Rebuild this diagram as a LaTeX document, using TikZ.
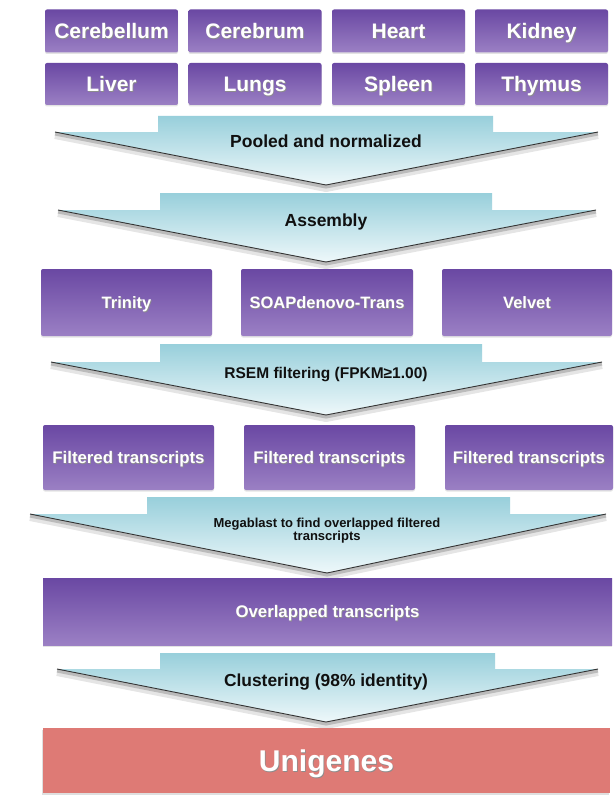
\documentclass[tikz,border=0pt]{standalone}
\usepackage{fontspec}
\setmainfont{Liberation Sans}
\usetikzlibrary{shadows}
\definecolor{purT}{HTML}{6A48A3}
\definecolor{purB}{HTML}{9B80C4}
\definecolor{cyT}{HTML}{98CFDB}
\definecolor{cyB}{HTML}{EEF8FA}
\definecolor{uni}{HTML}{DE7A75}
\definecolor{lbl}{HTML}{101010}
\newcommand\shd[1]{\leavevmode\rlap{\kern0.7pt\raisebox{-0.7pt}{\color{black!45}#1}}#1}
\newcommand\fsz[1]{\fontsize{#1}{#1}\selectfont}
% band-left, band-right, top y, wing y, wing-left, wing-right, tip x, tip y
\newcommand\chev[8]{%
  \draw[black, opacity=0.10, line width=7pt, line join=round, shift={(0,3.5)}] (#6,#4) -- (#7,#8) -- (#5,#4);
  \draw[black, opacity=0.18, line width=3.5pt, line join=round, shift={(0,1.8)}] (#6,#4) -- (#7,#8) -- (#5,#4);
  \shade[top color=cyT, bottom color=cyB] (#1,#4) -- (#1,#3) -- (#2,#3) -- (#2,#4) -- (#6,#4) -- (#7,#8) -- (#5,#4) -- cycle;
  \draw[black!80, line width=0.9pt, line join=round] (#6,#4) -- (#7,#8) -- (#5,#4);
}
\tikzset{
  fs/.style={font=\bfseries\fsz{#1}, text height={#1*0.72pt}, text depth=0pt},
  pbox/.style={rounded corners=2pt, top color=purT, bottom color=purB, text=white,
    inner sep=0pt,
    drop shadow={opacity=0.22, shadow xshift=0pt, shadow yshift=-1.5pt}},
  alabel/.style={text=lbl, inner sep=0pt, align=center},
  ubox/.style={fill=uni, text=white, fs=30, inner sep=0pt,
    drop shadow={opacity=0.25, shadow xshift=-1.5pt, shadow yshift=-2pt}}
}
\begin{document}
\begin{tikzpicture}[x=1pt,y=-1pt]
\useasboundingbox (0,0) rectangle (615,797);
\fill[white] (0,0) rectangle (615,797);

% tissue rows
\foreach \n/\t/\x in {cbl/Cerebellum/111.5, cbr/Cerebrum/255, hrt/Heart/398.5, kid/Kidney/541.5}
  \node[pbox, minimum width=133pt, minimum height=43pt, fs=21] (\n) at (\x,31) {\shd{\t}};
\foreach \n/\t/\x in {liv/Liver/111.5, lun/Lungs/255, spl/Spleen/398.5, thy/Thymus/541.5}
  \node[pbox, minimum width=133pt, minimum height=42pt, fs=21] (\n) at (\x,84) {\shd{\t}};

% arrow 1
\chev{158}{493}{116}{132}{55}{598}{326}{185}
\node[alabel, fs=17.5] (pool) at (326,141.5) {Pooled and normalized};

% arrow 2
\chev{160}{492}{193}{210}{58}{596}{326}{262}
\node[alabel, fs=17.5] (asm) at (326,220) {Assembly};

% assemblers
\node[pbox, minimum width=171pt, minimum height=67pt, fs=16.5] (tri) at (126.5,302.5) {\shd{Trinity}};
\node[pbox, minimum width=172pt, minimum height=67pt, fs=16.5] (soap) at (327,302.5) {\shd{SOAPdenovo-Trans}};
\node[pbox, minimum width=170pt, minimum height=67pt, fs=16.5] (vel) at (527,302.5) {\shd{Velvet}};

% arrow 3
\chev{160}{482}{344}{362}{51}{602}{326}{415}
\node[alabel, fs=15.5] (rsem) at (326,373) {RSEM filtering (FPKM≥1.00)};

% filtered
\node[pbox, minimum width=171pt, minimum height=65pt, fs=16.8] (f1) at (128.5,457.5) {\shd{Filtered transcripts}};
\node[pbox, minimum width=171pt, minimum height=65pt, fs=16.8] (f2) at (329.5,457.5) {\shd{Filtered transcripts}};
\node[pbox, minimum width=168pt, minimum height=65pt, fs=16.8] (f3) at (529,457.5) {\shd{Filtered transcripts}};

% arrow 4
\chev{147}{510}{497}{514}{30}{606}{327}{573}
\node[alabel, font=\bfseries\fsz{13}] (mega) at (327,531) {Megablast to find overlapped filtered\\transcripts};

% overlapped
\node[pbox, rounded corners=0pt, minimum width=569pt, minimum height=67pt, fs=16.8] (ovl) at (327.5,611.5) {\shd{Overlapped transcripts}};

% arrow 5
\chev{160}{495}{653}{669}{57}{598}{326}{722}
\node[alabel, fs=17.4] (clu) at (326,680) {Clustering (98\% identity)};

% unigenes
\node[ubox, minimum width=567pt, minimum height=65pt] (uni) at (326.5,760.5) {\shd{Unigenes}};
\end{tikzpicture}
\end{document}
